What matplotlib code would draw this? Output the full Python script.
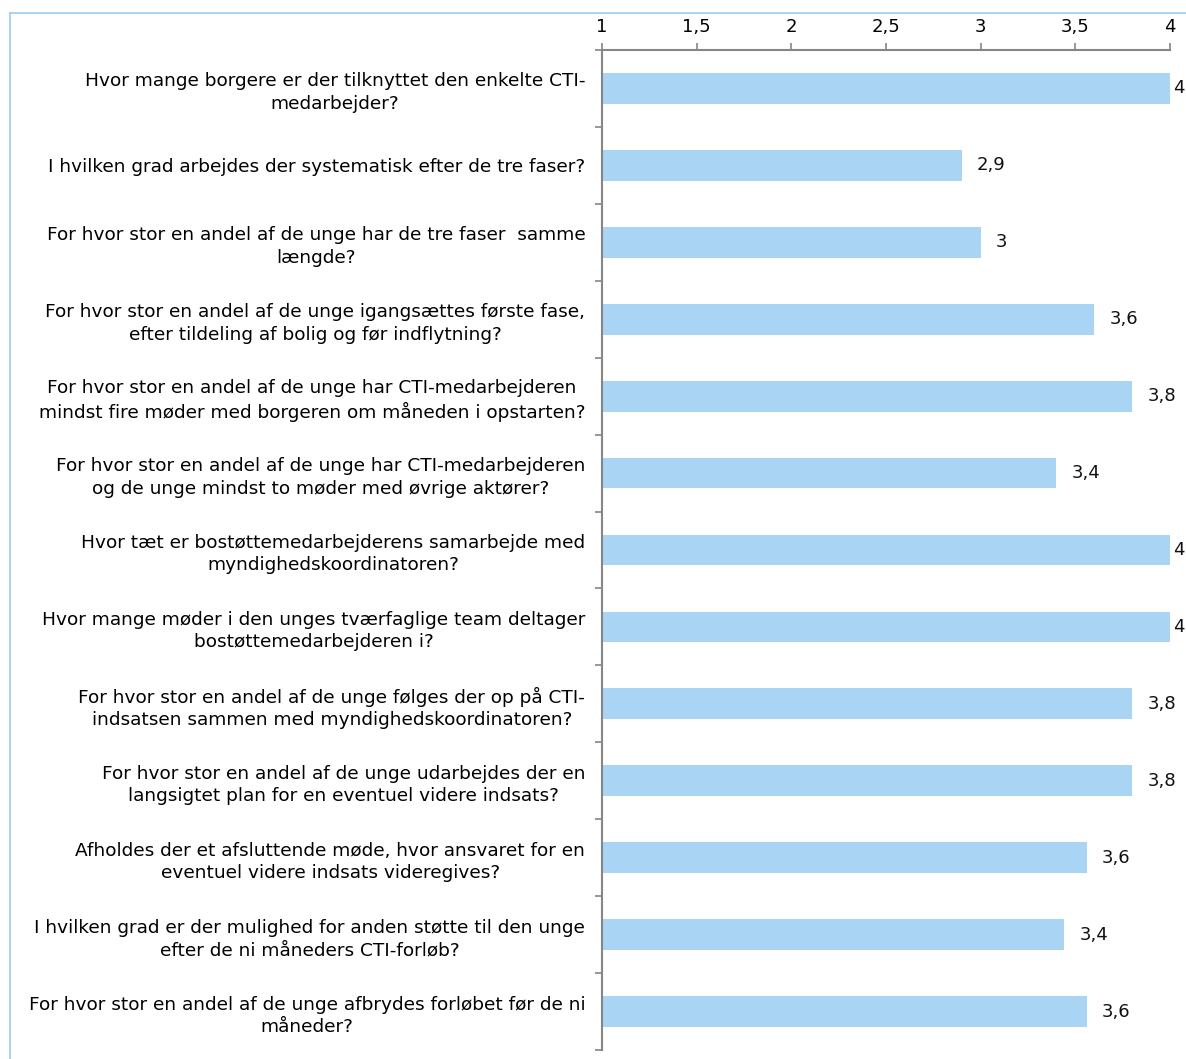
import numpy as np
import matplotlib
matplotlib.use("Agg")
import matplotlib.pyplot as plt
from matplotlib.lines import Line2D

plt.rcParams["font.family"] = ["DejaVu Sans"]

QUESTIONS = [
    "Hvor mange borgere er der tilknyttet den enkelte CTI-\nmedarbejder?",
    "I hvilken grad arbejdes der systematisk efter de tre faser?",
    "For hvor stor en andel af de unge har de tre faser  samme\nlængde?",
    "For hvor stor en andel af de unge igangsættes første fase,\nefter tildeling af bolig og før indflytning?",
    "For hvor stor en andel af de unge har CTI-medarbejderen\nmindst fire møder med borgeren om måneden i opstarten?",
    "For hvor stor en andel af de unge har CTI-medarbejderen\nog de unge mindst to møder med øvrige aktører?",
    "Hvor tæt er bostøttemedarbejderens samarbejde med\nmyndighedskoordinatoren?",
    "Hvor mange møder i den unges tværfaglige team deltager\nbostøttemedarbejderen i?",
    "For hvor stor en andel af de unge følges der op på CTI-\nindsatsen sammen med myndighedskoordinatoren?",
    "For hvor stor en andel af de unge udarbejdes der en\nlangsigtet plan for en eventuel videre indsats?",
    "Afholdes der et afsluttende møde, hvor ansvaret for en\neventuel videre indsats videregives?",
    "I hvilken grad er der mulighed for anden støtte til den unge\nefter de ni måneders CTI-forløb?",
    "For hvor stor en andel af de unge afbrydes forløbet før de ni\nmåneder?",
]
SCORES = [4.0, 2.9, 3.0, 3.6, 3.8, 3.4, 4.0, 4.0, 3.8, 3.8, 3.56, 3.44, 3.56]
XTICKS = [1, 1.5, 2, 2.5, 3, 3.5, 4]
XTICKLABELS = ["1", "1,5", "2", "2,5", "3", "3,5", "4"]

BAR = "#a9d4f4"
AXC = "#868686"
FS = 13

fig = plt.figure(figsize=(11.86, 10.59), dpi=100)
ax = fig.add_axes([602 / 1186, 1 - 1050 / 1059, 568 / 1186, 1000 / 1059])

n = len(SCORES)
ypos = np.arange(n) + 0.5
ax.barh(ypos, [s - 1 for s in SCORES], left=1, height=0.4, color=BAR, zorder=2)

for y, s in zip(ypos, SCORES):
    lab = f"{s:.1f}".rstrip("0").rstrip(".").replace(".", ",")
    off = 2.5 if s >= 4 else 11   # full-length bars: keep the label inside the figure
    ax.annotate(lab, (s, y), xytext=(off, 0), textcoords="offset points",
                ha="left", va="center", fontsize=FS, color="#111111",
                annotation_clip=False)

ax.set_xlim(1, 4)
ax.set_ylim(n, 0)
ax.xaxis.tick_top()
ax.set_xticks(XTICKS)
ax.set_xticklabels(XTICKLABELS, fontsize=FS)
ax.tick_params(axis="x", direction="out", length=5, width=1.2, color=AXC, pad=5)

# boundary ticks on the y axis, labels sit on the minor ticks at bar centres
ax.set_yticks(np.arange(n + 1))
ax.set_yticklabels([])
ax.set_yticks(ypos, minor=True)
ax.set_yticklabels(QUESTIONS, minor=True, fontsize=13.3, ha="right",
                   multialignment="center", linespacing=1.32)
ax.tick_params(axis="y", which="major", direction="out", length=5, width=1.2, color=AXC)
ax.tick_params(axis="y", which="minor", length=0, pad=12)

for s in ("right", "bottom"):
    ax.spines[s].set_visible(False)
for s in ("top", "left"):
    ax.spines[s].set_color(AXC)
    ax.spines[s].set_linewidth(1.5)

# thin frame around the chart area
fc = "#a8cff0"
fig.add_artist(Line2D([10 / 1186, 1], [1 - 13 / 1059] * 2, color=fc, lw=1.3))
fig.add_artist(Line2D([10 / 1186] * 2, [0, 1 - 13 / 1059], color=fc, lw=1.3))

fig.savefig("out.png", dpi=100)
